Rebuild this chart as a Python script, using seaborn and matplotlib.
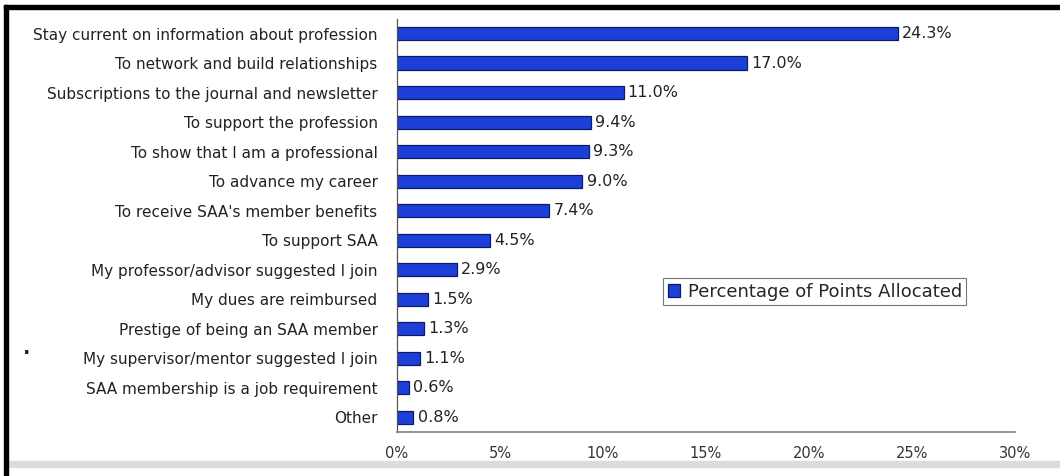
import numpy as np
import pandas as pd
import matplotlib
matplotlib.use("Agg")
import matplotlib.pyplot as plt
import seaborn as sns
from matplotlib.patches import Rectangle

# ========== Data ==========
categories = [
    "Stay current on information about profession",
    "To network and build relationships",
    "Subscriptions to the journal and newsletter",
    "To support the profession",
    "To show that I am a professional",
    "To advance my career",
    "To receive SAA's member benefits",
    "To support SAA",
    "My professor/advisor suggested I join",
    "My dues are reimbursed",
    "Prestige of being an SAA member",
    "My supervisor/mentor suggested I join",
    "SAA membership is a job requirement",
    "Other",
]
values = [24.3, 17.0, 11.0, 9.4, 9.3, 9.0, 7.4, 4.5, 2.9, 1.5, 1.3, 1.1, 0.6, 0.8]
series_name = "Percentage of Points Allocated"
x_ticks = [0, 5, 10, 15, 20, 25, 30]

df = pd.DataFrame({"reason": categories, "pct": values, "series": series_name})

# ========== Plot ==========
sns.set_style("white")
plt.rcParams["font.family"] = ["DejaVu Sans"]

fig = plt.figure(figsize=(10.6, 4.76), dpi=100)
ax = fig.add_axes([0.3745, 0.0924, 0.583, 0.868])

bar_color = "#1d3fd8"
sns.barplot(data=df, x="pct", y="reason", hue="series", orient="h",
            palette=[bar_color], saturation=1, width=0.45, edgecolor="#0a1b6e",
            linewidth=0.9, ax=ax, legend=True)

ax.bar_label(ax.containers[0], labels=[f"{v:.1f}%" for v in values],
             padding=3, fontsize=11.5, color="#222222")

ax.set_xlim(0, 30)
ax.set_ylim(len(categories) - 0.5, -0.5)
ax.set_xticks(x_ticks)
ax.set_xticklabels([f"{t}%" for t in x_ticks], color="#333333", fontsize=10.5)
ax.set_yticks(np.arange(-0.5, len(categories), 1), minor=True)
ax.tick_params(axis="y", which="major", length=0, pad=14, labelsize=11, labelcolor="#222222")
ax.tick_params(axis="y", which="minor", length=4, width=0.8, color="#555555", direction="out")
ax.tick_params(axis="x", which="major", length=4, width=0.8, color="#808080", direction="out", pad=6)
ax.set_xlabel("")
ax.set_ylabel("")

for s in ["top", "right"]:
    ax.spines[s].set_visible(False)
ax.spines["left"].set_color("#555555")
ax.spines["left"].set_linewidth(0.9)
ax.spines["bottom"].set_color("#808080")
ax.spines["bottom"].set_linewidth(1.2)

leg = ax.legend(loc="center", bbox_to_anchor=(0.676, 0.339), fontsize=13,
                frameon=True, fancybox=False, handlelength=0.7, handleheight=0.7,
                handletextpad=0.4, borderpad=0.25, edgecolor="#555555")
leg.get_frame().set_linewidth(0.8)

# frame decorations around the picture
fig.patches.append(Rectangle((4 / 1060, 1 - 9 / 476), 1, 4 / 476, transform=fig.transFigure,
                             color="black", zorder=10))
fig.patches.append(Rectangle((4 / 1060, 0), 4 / 1060, 1 - 5 / 476, transform=fig.transFigure,
                             color="black", zorder=10))
fig.patches.append(Rectangle((8 / 1060, 1 - 467 / 476), 1, 6 / 476, transform=fig.transFigure,
                             color="#dcdcdc", zorder=0))
fig.text(27 / 1060, 1 - 354 / 476, ".", fontsize=14, fontweight="bold", ha="center", va="baseline")

plt.savefig("out.png", dpi=100)
